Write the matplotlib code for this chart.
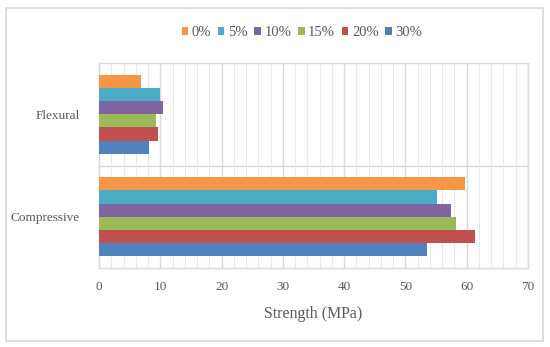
import numpy as np
import matplotlib as mpl
mpl.use('Agg')
import matplotlib.pyplot as plt
from matplotlib.patches import Rectangle
from matplotlib.ticker import MultipleLocator

categories = ['Compressive', 'Flexural']
series = ['0%', '5%', '10%', '15%', '20%', '30%']
colors = ['#F79646', '#4BACC6', '#8064A2', '#9BBB59', '#C0504D', '#4F81BD']
# values per series: [Compressive, Flexural]
values = {
    '0%':  [59.8, 6.9],
    '5%':  [55.1, 9.9],
    '10%': [57.5, 10.5],
    '15%': [58.2, 9.3],
    '20%': [61.3, 9.7],
    '30%': [53.6, 8.2],
}

TEXT = '#595959'
GRID = '#D9D9D9'
plt.rcParams['font.family'] = ['Liberation Serif', 'DejaVu Serif']

fig = plt.figure(figsize=(5.5, 3.47), dpi=100)
W, H = 550, 347
ax = fig.add_axes([99 / W, 1 - 268 / H, (528 - 99) / W, (268 - 63) / H])

# outer chart border
fig.patches.append(Rectangle((6 / W, 1 - 341 / H), (543 - 6) / W, (341 - 8) / H,
                             transform=fig.transFigure, fill=False,
                             edgecolor=GRID, linewidth=1.2))

n = len(series)
bar_h = 0.77 / n
y = np.arange(len(categories))
for i, s in enumerate(series):
    # first series on top within each group
    offs = (n - 1) / 2 - i
    ax.barh(y + offs * bar_h, values[s], height=bar_h, color=colors[i],
            label=s, zorder=3)

ax.set_xlim(0, 70)
ax.set_ylim(-0.5, 1.5)
ax.xaxis.set_major_locator(MultipleLocator(10))
ax.xaxis.set_minor_locator(MultipleLocator(2))
ax.grid(True, which='major', axis='x', color=GRID, linewidth=1.0, zorder=0)
ax.grid(True, which='minor', axis='x', color='#E8E8E8', linewidth=0.8, zorder=0)
ax.axhline(0.5, color=GRID, linewidth=1.0, zorder=1)
ax.set_yticks(y)
ax.set_yticklabels(categories)
ax.tick_params(axis='both', which='both', length=0, colors=TEXT, labelsize=9.5)
ax.tick_params(axis='x', pad=9)
ax.tick_params(axis='y', pad=14)
for sp in ax.spines.values():
    sp.set_color(GRID)
    sp.set_linewidth(1.0)

ax.set_xlabel('Strength (MPa)', color=TEXT, fontsize=11.4, labelpad=10)

leg = fig.legend(loc='center', bbox_to_anchor=(302 / W, 1 - 33 / H), ncol=n,
                 frameon=False, fontsize=10.5, handlelength=0.45,
                 handleheight=0.45, handletextpad=0.25, columnspacing=0.45,
                 labelcolor=TEXT)

fig.savefig('out.png', dpi=100)
